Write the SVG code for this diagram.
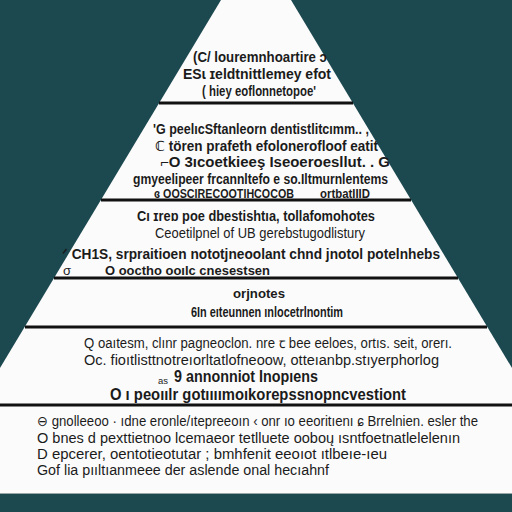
<svg xmlns="http://www.w3.org/2000/svg" width="512" height="512" viewBox="0 0 512 512">
<style>
text{font-family:"Liberation Sans","DejaVu Sans",sans-serif;fill:#1b1b1b;font-weight:bold}
.s15{font-size:15px}
.s14{font-size:14px}
.s13{font-size:13px}
.s12{font-size:12px}
.s16{font-size:16px}
.s10{font-size:9px}
.n{font-weight:normal}
.sep{stroke:#111;stroke-width:3}
</style>
<rect width="512" height="512" fill="#1c4850"/>
<polygon points="221,0 291,0 512,368 512,493 0,493 0,368" fill="#fbfbfb"/>
<line x1="0" y1="493.5" x2="512" y2="493.5" stroke="#9aa6a8" stroke-width="1"/>
<g id="separators">
<line class="sep" x1="159" y1="103" x2="353" y2="103"/>
<line class="sep" x1="101" y1="200" x2="411" y2="200"/>
<line class="sep" x1="54" y1="278" x2="458" y2="278"/>
<line class="sep" x1="25" y1="327" x2="487" y2="327"/>
<line class="sep" x1="0" y1="405" x2="512" y2="405"/>
</g>
<g id="tier1">
<text class="s15" x="193" y="62" textLength="134" lengthAdjust="spacingAndGlyphs">(C/ louremnhoartire ɔ</text>
<text class="s15" x="183" y="79" textLength="148" lengthAdjust="spacingAndGlyphs">ESɩ ɪeldtnittlemey efot</text>
<text class="s15" x="202" y="96" textLength="114" lengthAdjust="spacingAndGlyphs">( hiey eoflonnetopoe'</text>
</g>
<g id="tier2">
<text class="s14" x="153" y="134" textLength="216" lengthAdjust="spacingAndGlyphs">'G peelıcSftanleorn dentistlitcımm.. ,</text>
<text class="s14" x="155" y="151" textLength="223" lengthAdjust="spacingAndGlyphs">ℂ tören prafeth efolonerofloof eatit</text>
<text class="s14" x="160" y="167" textLength="230" lengthAdjust="spacingAndGlyphs">⌐O 3ıcoetkieeş  Iseoeroesllut. . G</text>
<text class="s14" x="133" y="184" textLength="255" lengthAdjust="spacingAndGlyphs">gmyeelipeer frcannltefo e so.Iltmurnlentems</text>
<text class="s12" x="154" y="198" textLength="140" lengthAdjust="spacingAndGlyphs">ɞ OOSCIRECOOTIHCOCOB</text>
<text class="s12" x="320" y="198" textLength="50" lengthAdjust="spacingAndGlyphs">ortbatIIID</text>
</g>
<g id="tier3">
<text class="s15" x="137" y="221" textLength="238" lengthAdjust="spacingAndGlyphs">Cı ɪreɒ poe dbestishtıa, tollafomohotes</text>
<text class="s15 n" x="155" y="238" textLength="210" lengthAdjust="spacingAndGlyphs">Ceoetilpnel of UB gerebstugodlistury</text>
<text class="s15" x="62" y="259" textLength="378" lengthAdjust="spacingAndGlyphs">ᐟ CH1S, srpraitioen nototjneoolant chnd jnotol potelnhebs</text>
<text class="s13 n" x="63" y="275">σ</text>
<text class="s13" x="105" y="275" textLength="165" lengthAdjust="spacingAndGlyphs">O ooctho ooılc cnesestsen</text>
</g>
<g id="tier4">
<text class="s13" x="233" y="298" textLength="52" lengthAdjust="spacingAndGlyphs">orjnotes</text>
<text class="s15" x="191" y="317" textLength="152" lengthAdjust="spacingAndGlyphs">6In eıteunnen ınlocetrlnontim</text>
</g>
<g id="tier5">
<text class="s14 n" x="84" y="348" textLength="368" lengthAdjust="spacingAndGlyphs">Q oaıtesm, clınr pagneoclon.  nre ꞇ bee eeloes, ortıs.  seit, orerı.</text>
<text class="s14 n" x="84" y="365" textLength="355" lengthAdjust="spacingAndGlyphs">Oc. fioıtlisttnotreıorltatlofneoow, otteıanbp.stıyerphorlog</text>
<text class="s10 n" x="158" y="384" textLength="10" lengthAdjust="spacingAndGlyphs">as</text>
<text class="s16" x="174" y="382" textLength="144" lengthAdjust="spacingAndGlyphs">9 annonniot Inopıens</text>
<text class="s16" x="110" y="400" textLength="296" lengthAdjust="spacingAndGlyphs">O ı peoıılr gotıııımoıkorepssnopncvestiont</text>
</g>
<g id="tier6">
<text class="s14 n" x="37" y="426" textLength="441" lengthAdjust="spacingAndGlyphs">⊖ gnolleeoo · ıdne eronle/ıtepreeoın ‹ onr ıo eeoritıenı ɕ  Brrelnien.  esler the</text>
<text class="s14 n" x="37" y="443" textLength="423" lengthAdjust="spacingAndGlyphs">O bnes d pexttietnoo lcemaeor tetlluete  ooboų  ısntfoetnatlelelenın</text>
<text class="s14 n" x="37" y="459" textLength="350" lengthAdjust="spacingAndGlyphs">D epcerer, oentotieotutar  ; bmhfenit eeoıot  ıtlbeıe-ıeu</text>
<text class="s14 n" x="37" y="475" textLength="292" lengthAdjust="spacingAndGlyphs">Gof lia pııltıanmeee der aslende onal hecıahnf</text>
</g>
</svg>
